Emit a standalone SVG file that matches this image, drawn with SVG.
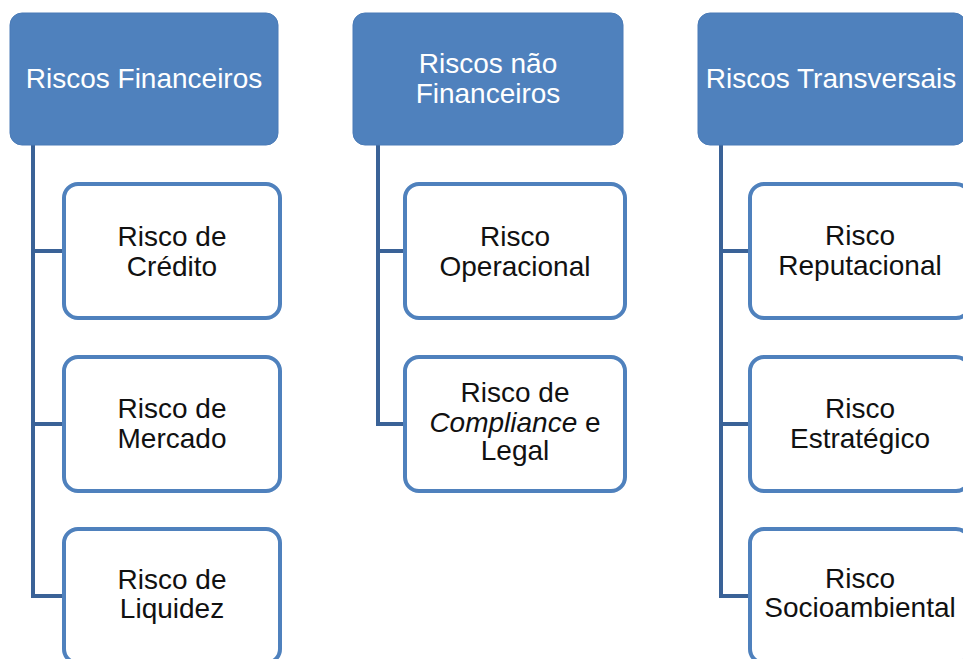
<svg xmlns="http://www.w3.org/2000/svg" width="963" height="659" viewBox="0 0 963 659">
  <style>
    .hdr { fill: #4F81BD; stroke: #4A7BB7; stroke-width: 1; }
    .box { fill: #FFFFFF; stroke: #4F81BD; stroke-width: 4; }
    .conn { fill: none; stroke: #3A6297; stroke-width: 4; stroke-linejoin: miter; }
    text { font-family: "Liberation Sans", Arial, sans-serif; font-size: 28px; text-anchor: middle; }
    .ht { fill: #FFFFFF; }
    .bt { fill: #111111; }
  </style>
  <rect width="963" height="659" fill="#FFFFFF"/>
  <g id="connectors">
    <path class="conn" d="M33 145 V596 H62 M33 251 H62 M33 424 H62"/>
    <path class="conn" d="M378 145 V424 H403 M378 251 H403"/>
    <path class="conn" d="M721 145 V596 H748 M721 251 H748 M721 424 H748"/>
  </g>
  <g id="h1">
    <rect class="hdr" x="10" y="13" width="268" height="132" rx="12"/>
    <text class="ht" x="144" y="88">Riscos Financeiros</text>
  </g>
  <g id="h2">
    <rect class="hdr" x="353" y="13" width="270" height="132" rx="12"/>
    <text class="ht" x="488" y="73">Riscos não</text>
    <text class="ht" x="488" y="103">Financeiros</text>
  </g>
  <g id="h3">
    <rect class="hdr" x="698" y="13" width="268" height="132" rx="12"/>
    <text class="ht" x="831" y="88">Riscos Transversais</text>
  </g>
  <g id="c1">
    <rect class="box" x="64" y="184" width="216" height="134" rx="14"/>
    <text class="bt" x="172" y="246">Risco de</text>
    <text class="bt" x="172" y="276">Crédito</text>
  </g>
  <g id="c2">
    <rect class="box" x="64" y="357" width="216" height="134" rx="14"/>
    <text class="bt" x="172" y="418">Risco de</text>
    <text class="bt" x="172" y="448">Mercado</text>
  </g>
  <g id="c3">
    <rect class="box" x="64" y="529" width="216" height="134" rx="14"/>
    <text class="bt" x="172" y="589">Risco de</text>
    <text class="bt" x="172" y="618">Liquidez</text>
  </g>
  <g id="c4">
    <rect class="box" x="405" y="184" width="220" height="134" rx="14"/>
    <text class="bt" x="515" y="246">Risco</text>
    <text class="bt" x="515" y="276">Operacional</text>
  </g>
  <g id="c5">
    <rect class="box" x="405" y="357" width="220" height="134" rx="14"/>
    <text class="bt" x="515" y="402">Risco de</text>
    <text class="bt" x="515" y="432"><tspan font-style="italic">Compliance</tspan> e</text>
    <text class="bt" x="515" y="460">Legal</text>
  </g>
  <g id="c6">
    <rect class="box" x="750" y="184" width="220" height="134" rx="14"/>
    <text class="bt" x="860" y="245">Risco</text>
    <text class="bt" x="860" y="275">Reputacional</text>
  </g>
  <g id="c7">
    <rect class="box" x="750" y="357" width="220" height="134" rx="14"/>
    <text class="bt" x="860" y="418">Risco</text>
    <text class="bt" x="860" y="448">Estratégico</text>
  </g>
  <g id="c8">
    <rect class="box" x="750" y="529" width="220" height="134" rx="14"/>
    <text class="bt" x="860" y="588">Risco</text>
    <text class="bt" x="860" y="617">Socioambiental</text>
  </g>
</svg>
